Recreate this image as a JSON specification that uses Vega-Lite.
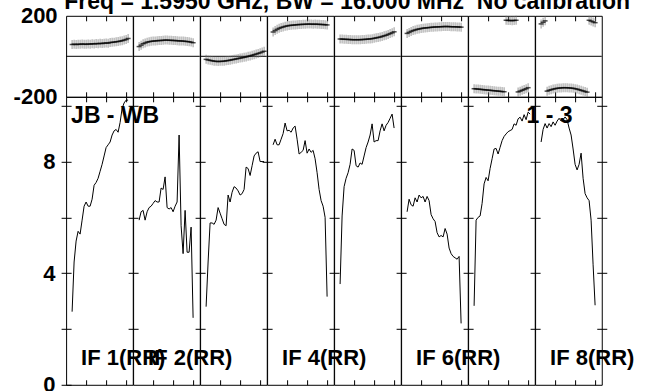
{
"$schema":"https://vega.github.io/schema/vega-lite/v6.json",
"autosize":{"type":"pad"},
"padding":{"left":12.1,"top":-10.2,"right":0,"bottom":0},
"background":"white",
"config":{"view":{"stroke":"black","strokeWidth":1},"axis":{"domain":false,"grid":false,"tickColor":"black","labelFont":"Liberation Sans","labelFontSize":22,"labelFontWeight":"bold","labelColor":"black"}},
"datasets":{
"amp":[
{"i":1,"c":3,"a":2.62},{"i":1,"c":4,"a":4.4},{"i":1,"c":5,"a":5.15},{"i":1,"c":6,"a":5.5},{"i":1,"c":7,"a":5.4},{"i":1,"c":8,"a":5.9},{"i":1,"c":9,"a":6.4},{"i":1,"c":10,"a":6.55},{"i":1,"c":11,"a":6.4},{"i":1,"c":12,"a":6.4},{"i":1,"c":13,"a":6.65},{"i":1,"c":14,"a":7.15},{"i":1,"c":15,"a":7.25},{"i":1,"c":16,"a":7.4},{"i":1,"c":17,"a":7.65},{"i":1,"c":18,"a":7.9},{"i":1,"c":19,"a":8.2},{"i":1,"c":20,"a":8.5},{"i":1,"c":21,"a":8.6},{"i":1,"c":22,"a":8.7},{"i":1,"c":23,"a":8.95},{"i":1,"c":24,"a":9.1},{"i":1,"c":25,"a":9.15},{"i":1,"c":26,"a":9.05},{"i":1,"c":27,"a":9.4},{"i":1,"c":28,"a":9.9},{"i":1,"c":29,"a":10.1},{"i":1,"c":30,"a":10.2},{"i":1,"c":31,"a":10.2},
{"i":2,"c":3,"a":5.9},{"i":2,"c":4,"a":6.2},{"i":2,"c":5,"a":6.25},{"i":2,"c":6,"a":5.9},{"i":2,"c":7,"a":6.2},{"i":2,"c":8,"a":6.35},{"i":2,"c":9,"a":6.4},{"i":2,"c":10,"a":6.5},{"i":2,"c":11,"a":6.6},{"i":2,"c":12,"a":6.55},{"i":2,"c":13,"a":6.55},{"i":2,"c":14,"a":7.05},{"i":2,"c":15,"a":7.0},{"i":2,"c":16,"a":7.45},{"i":2,"c":17,"a":6.35},{"i":2,"c":18,"a":6.3},{"i":2,"c":19,"a":6.35},{"i":2,"c":20,"a":6.2},{"i":2,"c":21,"a":6.4},{"i":2,"c":22,"a":6.55},{"i":2,"c":23,"a":8.95},{"i":2,"c":24,"a":5.7},{"i":2,"c":25,"a":4.7},{"i":2,"c":26,"a":6.25},{"i":2,"c":27,"a":4.75},{"i":2,"c":28,"a":4.75},{"i":2,"c":29,"a":5.65},{"i":2,"c":30,"a":2.4},
{"i":3,"c":3,"a":2.8},{"i":3,"c":4,"a":4.4},{"i":3,"c":5,"a":5.8},{"i":3,"c":6,"a":5.8},{"i":3,"c":7,"a":5.75},{"i":3,"c":8,"a":5.9},{"i":3,"c":9,"a":6.35},{"i":3,"c":10,"a":6.15},{"i":3,"c":11,"a":5.95},{"i":3,"c":12,"a":5.75},{"i":3,"c":13,"a":5.7},{"i":3,"c":14,"a":6.8},{"i":3,"c":15,"a":6.55},{"i":3,"c":16,"a":6.9},{"i":3,"c":17,"a":7.1},{"i":3,"c":18,"a":7.05},{"i":3,"c":19,"a":6.95},{"i":3,"c":20,"a":6.8},{"i":3,"c":21,"a":6.85},{"i":3,"c":22,"a":7.0},{"i":3,"c":23,"a":7.8},{"i":3,"c":24,"a":7.75},{"i":3,"c":25,"a":7.5},{"i":3,"c":26,"a":7.85},{"i":3,"c":27,"a":8.2},{"i":3,"c":28,"a":8.3},{"i":3,"c":29,"a":8.35},{"i":3,"c":30,"a":8.0},{"i":3,"c":31,"a":8.0},{"i":3,"c":32,"a":8.0},
{"i":4,"c":3,"a":8.6},{"i":4,"c":4,"a":8.8},{"i":4,"c":5,"a":8.6},{"i":4,"c":6,"a":8.6},{"i":4,"c":7,"a":8.8},{"i":4,"c":8,"a":9.0},{"i":4,"c":9,"a":9.38},{"i":4,"c":10,"a":9.1},{"i":4,"c":11,"a":9.12},{"i":4,"c":12,"a":9.05},{"i":4,"c":13,"a":9.2},{"i":4,"c":14,"a":9.27},{"i":4,"c":15,"a":8.8},{"i":4,"c":16,"a":8.27},{"i":4,"c":17,"a":8.33},{"i":4,"c":18,"a":8.4},{"i":4,"c":19,"a":8.75},{"i":4,"c":20,"a":8.3},{"i":4,"c":21,"a":8.45},{"i":4,"c":22,"a":8.33},{"i":4,"c":23,"a":8.4},{"i":4,"c":24,"a":8.1},{"i":4,"c":25,"a":7.6},{"i":4,"c":26,"a":7.0},{"i":4,"c":27,"a":6.6},{"i":4,"c":28,"a":6.4},{"i":4,"c":29,"a":6.0},{"i":4,"c":30,"a":3.16},
{"i":5,"c":3,"a":3.61},{"i":5,"c":4,"a":6.05},{"i":5,"c":5,"a":7.1},{"i":5,"c":6,"a":7.4},{"i":5,"c":7,"a":7.6},{"i":5,"c":8,"a":7.9},{"i":5,"c":9,"a":8.45},{"i":5,"c":10,"a":8.4},{"i":5,"c":11,"a":7.85},{"i":5,"c":12,"a":7.8},{"i":5,"c":13,"a":7.95},{"i":5,"c":14,"a":7.9},{"i":5,"c":15,"a":8.2},{"i":5,"c":16,"a":8.5},{"i":5,"c":17,"a":8.7},{"i":5,"c":18,"a":8.95},{"i":5,"c":19,"a":9.35},{"i":5,"c":20,"a":8.7},{"i":5,"c":21,"a":8.75},{"i":5,"c":22,"a":8.75},{"i":5,"c":23,"a":9.1},{"i":5,"c":24,"a":9.35},{"i":5,"c":25,"a":9.1},{"i":5,"c":26,"a":9.3},{"i":5,"c":27,"a":9.4},{"i":5,"c":28,"a":9.55},{"i":5,"c":29,"a":9.7},{"i":5,"c":30,"a":9.2},
{"i":6,"c":3,"a":6.2},{"i":6,"c":4,"a":6.65},{"i":6,"c":5,"a":6.45},{"i":6,"c":6,"a":6.4},{"i":6,"c":7,"a":6.7},{"i":6,"c":8,"a":6.55},{"i":6,"c":9,"a":6.8},{"i":6,"c":10,"a":6.7},{"i":6,"c":11,"a":6.75},{"i":6,"c":12,"a":6.55},{"i":6,"c":13,"a":6.75},{"i":6,"c":14,"a":6.6},{"i":6,"c":15,"a":6.1},{"i":6,"c":16,"a":5.95},{"i":6,"c":17,"a":5.85},{"i":6,"c":18,"a":5.45},{"i":6,"c":19,"a":5.3},{"i":6,"c":20,"a":5.35},{"i":6,"c":21,"a":5.3},{"i":6,"c":22,"a":5.6},{"i":6,"c":23,"a":5.4},{"i":6,"c":24,"a":4.9},{"i":6,"c":25,"a":4.7},{"i":6,"c":26,"a":4.6},{"i":6,"c":27,"a":4.55},{"i":6,"c":28,"a":4.5},{"i":6,"c":29,"a":4.6},{"i":6,"c":30,"a":2.2},
{"i":7,"c":3,"a":2.83},{"i":7,"c":4,"a":5.9},{"i":7,"c":5,"a":6.0},{"i":7,"c":6,"a":6.05},{"i":7,"c":7,"a":6.5},{"i":7,"c":8,"a":7.2},{"i":7,"c":9,"a":7.43},{"i":7,"c":10,"a":7.31},{"i":7,"c":11,"a":7.75},{"i":7,"c":12,"a":8.1},{"i":7,"c":13,"a":8.45},{"i":7,"c":14,"a":8.47},{"i":7,"c":15,"a":8.27},{"i":7,"c":16,"a":8.51},{"i":7,"c":17,"a":8.75},{"i":7,"c":18,"a":8.9},{"i":7,"c":19,"a":8.99},{"i":7,"c":20,"a":9.07},{"i":7,"c":21,"a":9.11},{"i":7,"c":22,"a":9.15},{"i":7,"c":23,"a":9.35},{"i":7,"c":24,"a":9.3},{"i":7,"c":25,"a":9.53},{"i":7,"c":26,"a":9.59},{"i":7,"c":27,"a":9.45},{"i":7,"c":28,"a":9.68},{"i":7,"c":29,"a":9.5},{"i":7,"c":30,"a":9.77},{"i":7,"c":31,"a":9.7},
{"i":8,"c":3,"a":8.7},{"i":8,"c":4,"a":9.15},{"i":8,"c":5,"a":9.36},{"i":8,"c":6,"a":9.2},{"i":8,"c":7,"a":9.36},{"i":8,"c":8,"a":9.25},{"i":8,"c":9,"a":9.42},{"i":8,"c":10,"a":9.3},{"i":8,"c":11,"a":9.45},{"i":8,"c":12,"a":9.55},{"i":8,"c":13,"a":9.45},{"i":8,"c":14,"a":9.5},{"i":8,"c":15,"a":9.6},{"i":8,"c":16,"a":9.5},{"i":8,"c":17,"a":9.2},{"i":8,"c":18,"a":8.95},{"i":8,"c":19,"a":8.45},{"i":8,"c":20,"a":7.9},{"i":8,"c":21,"a":7.7},{"i":8,"c":22,"a":7.9},{"i":8,"c":23,"a":8.3},{"i":8,"c":24,"a":7.4},{"i":8,"c":25,"a":6.85},{"i":8,"c":26,"a":6.7},{"i":8,"c":27,"a":6.6},{"i":8,"c":28,"a":5.9},{"i":8,"c":29,"a":4.3},{"i":8,"c":30,"a":2.85}
],
"ph":[
{"i":1,"c":3,"p":58},{"i":1,"c":4,"p":60},{"i":1,"c":5,"p":58},{"i":1,"c":6,"p":60},{"i":1,"c":7,"p":59},{"i":1,"c":8,"p":61},{"i":1,"c":9,"p":60},{"i":1,"c":10,"p":59},{"i":1,"c":11,"p":61},{"i":1,"c":12,"p":60},{"i":1,"c":13,"p":62},{"i":1,"c":14,"p":61},{"i":1,"c":15,"p":63},{"i":1,"c":16,"p":62},{"i":1,"c":17,"p":64},{"i":1,"c":18,"p":63},{"i":1,"c":19,"p":65},{"i":1,"c":20,"p":66},{"i":1,"c":21,"p":65},{"i":1,"c":22,"p":68},{"i":1,"c":23,"p":69},{"i":1,"c":24,"p":70},{"i":1,"c":25,"p":72},{"i":1,"c":26,"p":73},{"i":1,"c":27,"p":75},{"i":1,"c":28,"p":77},{"i":1,"c":29,"p":80},{"i":1,"c":30,"p":83},{"i":1,"c":31,"p":88},
{"i":2,"c":3,"p":48},{"i":2,"c":4,"p":55},{"i":2,"c":5,"p":62},{"i":2,"c":6,"p":66},{"i":2,"c":7,"p":70},{"i":2,"c":8,"p":72},{"i":2,"c":9,"p":74},{"i":2,"c":10,"p":75},{"i":2,"c":11,"p":76},{"i":2,"c":12,"p":77},{"i":2,"c":13,"p":78},{"i":2,"c":14,"p":78},{"i":2,"c":15,"p":79},{"i":2,"c":16,"p":80},{"i":2,"c":17,"p":80},{"i":2,"c":18,"p":79},{"i":2,"c":19,"p":79},{"i":2,"c":20,"p":78},{"i":2,"c":21,"p":78},{"i":2,"c":22,"p":77},{"i":2,"c":23,"p":76},{"i":2,"c":24,"p":76},{"i":2,"c":25,"p":75},{"i":2,"c":26,"p":74},{"i":2,"c":27,"p":73},{"i":2,"c":28,"p":72},{"i":2,"c":29,"p":70},{"i":2,"c":30,"p":67},
{"i":3,"c":3,"p":-15},{"i":3,"c":4,"p":-18},{"i":3,"c":5,"p":-20},{"i":3,"c":6,"p":-22},{"i":3,"c":7,"p":-24},{"i":3,"c":8,"p":-25},{"i":3,"c":9,"p":-26},{"i":3,"c":10,"p":-25},{"i":3,"c":11,"p":-25},{"i":3,"c":12,"p":-24},{"i":3,"c":13,"p":-22},{"i":3,"c":14,"p":-21},{"i":3,"c":15,"p":-19},{"i":3,"c":16,"p":-17},{"i":3,"c":17,"p":-15},{"i":3,"c":18,"p":-13},{"i":3,"c":19,"p":-11},{"i":3,"c":20,"p":-9},{"i":3,"c":21,"p":-7},{"i":3,"c":22,"p":-5},{"i":3,"c":23,"p":-3},{"i":3,"c":24,"p":0},{"i":3,"c":25,"p":2},{"i":3,"c":26,"p":5},{"i":3,"c":27,"p":8},{"i":3,"c":28,"p":11},{"i":3,"c":29,"p":14},{"i":3,"c":30,"p":17},{"i":3,"c":31,"p":21},{"i":3,"c":32,"p":25},
{"i":4,"c":3,"p":120},{"i":4,"c":4,"p":127},{"i":4,"c":5,"p":133},{"i":4,"c":6,"p":138},{"i":4,"c":7,"p":142},{"i":4,"c":8,"p":145},{"i":4,"c":9,"p":148},{"i":4,"c":10,"p":150},{"i":4,"c":11,"p":152},{"i":4,"c":12,"p":153},{"i":4,"c":13,"p":154},{"i":4,"c":14,"p":155},{"i":4,"c":15,"p":156},{"i":4,"c":16,"p":157},{"i":4,"c":17,"p":157},{"i":4,"c":18,"p":158},{"i":4,"c":19,"p":158},{"i":4,"c":20,"p":159},{"i":4,"c":21,"p":159},{"i":4,"c":22,"p":159},{"i":4,"c":23,"p":158},{"i":4,"c":24,"p":159},{"i":4,"c":25,"p":158},{"i":4,"c":26,"p":158},{"i":4,"c":27,"p":157},{"i":4,"c":28,"p":157},{"i":4,"c":29,"p":156},{"i":4,"c":30,"p":155},
{"i":5,"c":3,"p":86},{"i":5,"c":4,"p":85},{"i":5,"c":5,"p":84},{"i":5,"c":6,"p":84},{"i":5,"c":7,"p":83},{"i":5,"c":8,"p":83},{"i":5,"c":9,"p":82},{"i":5,"c":10,"p":82},{"i":5,"c":11,"p":82},{"i":5,"c":12,"p":82},{"i":5,"c":13,"p":82},{"i":5,"c":14,"p":83},{"i":5,"c":15,"p":83},{"i":5,"c":16,"p":84},{"i":5,"c":17,"p":85},{"i":5,"c":18,"p":86},{"i":5,"c":19,"p":87},{"i":5,"c":20,"p":89},{"i":5,"c":21,"p":91},{"i":5,"c":22,"p":93},{"i":5,"c":23,"p":95},{"i":5,"c":24,"p":98},{"i":5,"c":25,"p":101},{"i":5,"c":26,"p":104},{"i":5,"c":27,"p":108},{"i":5,"c":28,"p":112},{"i":5,"c":29,"p":116},{"i":5,"c":30,"p":121},
{"i":6,"c":3,"p":113},{"i":6,"c":4,"p":118},{"i":6,"c":5,"p":123},{"i":6,"c":6,"p":127},{"i":6,"c":7,"p":130},{"i":6,"c":8,"p":133},{"i":6,"c":9,"p":135},{"i":6,"c":10,"p":137},{"i":6,"c":11,"p":139},{"i":6,"c":12,"p":140},{"i":6,"c":13,"p":141},{"i":6,"c":14,"p":142},{"i":6,"c":15,"p":143},{"i":6,"c":16,"p":144},{"i":6,"c":17,"p":145},{"i":6,"c":18,"p":145},{"i":6,"c":19,"p":146},{"i":6,"c":20,"p":146},{"i":6,"c":21,"p":147},{"i":6,"c":22,"p":147},{"i":6,"c":23,"p":147},{"i":6,"c":24,"p":147},{"i":6,"c":25,"p":146},{"i":6,"c":26,"p":146},{"i":6,"c":27,"p":146},{"i":6,"c":28,"p":145},{"i":6,"c":29,"p":145},{"i":6,"c":30,"p":144},
{"i":7,"c":3,"p":-160},{"i":7,"c":4,"p":-161},{"i":7,"c":5,"p":-162},{"i":7,"c":6,"p":-163},{"i":7,"c":7,"p":-164},{"i":7,"c":8,"p":-165},{"i":7,"c":9,"p":-166},{"i":7,"c":10,"p":-167},{"i":7,"c":11,"p":-168},{"i":7,"c":12,"p":-169},{"i":7,"c":13,"p":-170},{"i":7,"c":14,"p":-171},{"i":7,"c":15,"p":-172},{"i":7,"c":16,"p":-173},{"i":7,"c":17,"p":-174},{"i":7,"c":18,"p":-175},{"i":7,"c":19,"p":178},{"i":7,"c":20,"p":177},{"i":7,"c":21,"p":177},{"i":7,"c":22,"p":176},{"i":7,"c":23,"p":177},{"i":7,"c":24,"p":178},{"i":7,"c":25,"p":-176},{"i":7,"c":26,"p":-172},{"i":7,"c":27,"p":-168},{"i":7,"c":28,"p":-164},{"i":7,"c":29,"p":-160},{"i":7,"c":30,"p":-155},
{"i":8,"c":3,"p":160},{"i":8,"c":4,"p":168},{"i":8,"c":5,"p":175},{"i":8,"c":6,"p":-172},{"i":8,"c":7,"p":-168},{"i":8,"c":8,"p":-165},{"i":8,"c":9,"p":-162},{"i":8,"c":10,"p":-160},{"i":8,"c":11,"p":-158},{"i":8,"c":12,"p":-157},{"i":8,"c":13,"p":-156},{"i":8,"c":14,"p":-155},{"i":8,"c":15,"p":-155},{"i":8,"c":16,"p":-155},{"i":8,"c":17,"p":-156},{"i":8,"c":18,"p":-157},{"i":8,"c":19,"p":-158},{"i":8,"c":20,"p":-160},{"i":8,"c":21,"p":-162},{"i":8,"c":22,"p":-165},{"i":8,"c":23,"p":-168},{"i":8,"c":24,"p":-171},{"i":8,"c":25,"p":-174},{"i":8,"c":26,"p":-177},{"i":8,"c":27,"p":178},{"i":8,"c":28,"p":174},{"i":8,"c":29,"p":170},{"i":8,"c":30,"p":166}
]},
"columns":8,"spacing":0,"bounds":"flush","align":"each",
"concat":[
{"width":66.67,"height":81,"resolve":{"axis":{"x":"independent"}},"layer":[
{"data":{"values":[{}]},"mark":{"type":"rule","color":"black","strokeWidth":1},"encoding":{"y":{"datum":0,"type":"quantitative","scale":{"domain":[-200,200],"nice":false},"axis":{"values":[-200,200],"tickSize":0,"labelPadding":9,"labelExpr":"datum.value < 0 ? '-200' : '200'","title":null}}}},
{"data":{"name":"ph"},"transform":[{"filter":"datum.i==1"}],"mark":{"type":"tick","orient":"vertical","size":9,"thickness":1,"color":"#6e6e6e"},"encoding":{"x":{"field":"c","type":"quantitative","scale":{"domain":[0,33.33],"nice":false,"zero":false},"axis":{"orient":"top","values":[10,20,30],"offset":-5,"tickSize":5,"labels":false,"title":null}},"y":{"field":"p","type":"quantitative","axis":{"values":[-200,200],"tickSize":0,"labelPadding":9,"labelExpr":"datum.value < 0 ? '-200' : '200'","title":null}}}},
{"data":{"name":"ph"},"transform":[{"filter":"datum.i==1"}],"mark":{"type":"tick","orient":"horizontal","size":5,"thickness":1.5,"color":"black"},"encoding":{"x":{"field":"c","type":"quantitative","axis":{"orient":"bottom","values":[10,20,30],"offset":-5,"tickSize":5,"labels":false,"title":null}},"y":{"field":"p","type":"quantitative","axis":{"values":[-200,200],"tickSize":0,"labelPadding":9,"labelExpr":"datum.value < 0 ? '-200' : '200'","title":null}}}},
{"data":{"values":[{"t":"Freq = 1.5950 GHz, BW = 16.000 MHz\u00a0\u00a0No calibration"}]},"mark":{"type":"text","align":"left","baseline":"alphabetic","font":"Liberation Sans","fontSize":23,"fontWeight":"bold","color":"black"},"encoding":{"x":{"datum":-0.95,"type":"quantitative","axis":null},"y":{"datum":234.6,"type":"quantitative","axis":{"values":[-200,200],"tickSize":0,"labelPadding":9,"labelExpr":"datum.value < 0 ? '-200' : '200'","title":null}},"text":{"field":"t"}}}]},
{"width":66.67,"height":81,"resolve":{"axis":{"x":"independent"}},"layer":[
{"data":{"values":[{}]},"mark":{"type":"rule","color":"black","strokeWidth":1},"encoding":{"y":{"datum":0,"type":"quantitative","scale":{"domain":[-200,200],"nice":false},"axis":null}}},
{"data":{"name":"ph"},"transform":[{"filter":"datum.i==2"}],"mark":{"type":"tick","orient":"vertical","size":9,"thickness":1,"color":"#6e6e6e"},"encoding":{"x":{"field":"c","type":"quantitative","scale":{"domain":[0,33.33],"nice":false,"zero":false},"axis":{"orient":"top","values":[10,20,30],"offset":-5,"tickSize":5,"labels":false,"title":null}},"y":{"field":"p","type":"quantitative","axis":null}}},
{"data":{"name":"ph"},"transform":[{"filter":"datum.i==2"}],"mark":{"type":"tick","orient":"horizontal","size":5,"thickness":1.5,"color":"black"},"encoding":{"x":{"field":"c","type":"quantitative","axis":{"orient":"bottom","values":[10,20,30],"offset":-5,"tickSize":5,"labels":false,"title":null}},"y":{"field":"p","type":"quantitative","axis":null}}}]},
{"width":66.67,"height":81,"resolve":{"axis":{"x":"independent"}},"layer":[
{"data":{"values":[{}]},"mark":{"type":"rule","color":"black","strokeWidth":1},"encoding":{"y":{"datum":0,"type":"quantitative","scale":{"domain":[-200,200],"nice":false},"axis":null}}},
{"data":{"name":"ph"},"transform":[{"filter":"datum.i==3"}],"mark":{"type":"tick","orient":"vertical","size":9,"thickness":1,"color":"#6e6e6e"},"encoding":{"x":{"field":"c","type":"quantitative","scale":{"domain":[0,33.33],"nice":false,"zero":false},"axis":{"orient":"top","values":[10,20,30],"offset":-5,"tickSize":5,"labels":false,"title":null}},"y":{"field":"p","type":"quantitative","axis":null}}},
{"data":{"name":"ph"},"transform":[{"filter":"datum.i==3"}],"mark":{"type":"tick","orient":"horizontal","size":5,"thickness":1.5,"color":"black"},"encoding":{"x":{"field":"c","type":"quantitative","axis":{"orient":"bottom","values":[10,20,30],"offset":-5,"tickSize":5,"labels":false,"title":null}},"y":{"field":"p","type":"quantitative","axis":null}}}]},
{"width":66.67,"height":81,"resolve":{"axis":{"x":"independent"}},"layer":[
{"data":{"values":[{}]},"mark":{"type":"rule","color":"black","strokeWidth":1},"encoding":{"y":{"datum":0,"type":"quantitative","scale":{"domain":[-200,200],"nice":false},"axis":null}}},
{"data":{"name":"ph"},"transform":[{"filter":"datum.i==4"}],"mark":{"type":"tick","orient":"vertical","size":9,"thickness":1,"color":"#6e6e6e"},"encoding":{"x":{"field":"c","type":"quantitative","scale":{"domain":[0,33.33],"nice":false,"zero":false},"axis":{"orient":"top","values":[10,20,30],"offset":-5,"tickSize":5,"labels":false,"title":null}},"y":{"field":"p","type":"quantitative","axis":null}}},
{"data":{"name":"ph"},"transform":[{"filter":"datum.i==4"}],"mark":{"type":"tick","orient":"horizontal","size":5,"thickness":1.5,"color":"black"},"encoding":{"x":{"field":"c","type":"quantitative","axis":{"orient":"bottom","values":[10,20,30],"offset":-5,"tickSize":5,"labels":false,"title":null}},"y":{"field":"p","type":"quantitative","axis":null}}}]},
{"width":66.67,"height":81,"resolve":{"axis":{"x":"independent"}},"layer":[
{"data":{"values":[{}]},"mark":{"type":"rule","color":"black","strokeWidth":1},"encoding":{"y":{"datum":0,"type":"quantitative","scale":{"domain":[-200,200],"nice":false},"axis":null}}},
{"data":{"name":"ph"},"transform":[{"filter":"datum.i==5"}],"mark":{"type":"tick","orient":"vertical","size":9,"thickness":1,"color":"#6e6e6e"},"encoding":{"x":{"field":"c","type":"quantitative","scale":{"domain":[0,33.33],"nice":false,"zero":false},"axis":{"orient":"top","values":[10,20,30],"offset":-5,"tickSize":5,"labels":false,"title":null}},"y":{"field":"p","type":"quantitative","axis":null}}},
{"data":{"name":"ph"},"transform":[{"filter":"datum.i==5"}],"mark":{"type":"tick","orient":"horizontal","size":5,"thickness":1.5,"color":"black"},"encoding":{"x":{"field":"c","type":"quantitative","axis":{"orient":"bottom","values":[10,20,30],"offset":-5,"tickSize":5,"labels":false,"title":null}},"y":{"field":"p","type":"quantitative","axis":null}}}]},
{"width":66.67,"height":81,"resolve":{"axis":{"x":"independent"}},"layer":[
{"data":{"values":[{}]},"mark":{"type":"rule","color":"black","strokeWidth":1},"encoding":{"y":{"datum":0,"type":"quantitative","scale":{"domain":[-200,200],"nice":false},"axis":null}}},
{"data":{"name":"ph"},"transform":[{"filter":"datum.i==6"}],"mark":{"type":"tick","orient":"vertical","size":9,"thickness":1,"color":"#6e6e6e"},"encoding":{"x":{"field":"c","type":"quantitative","scale":{"domain":[0,33.33],"nice":false,"zero":false},"axis":{"orient":"top","values":[10,20,30],"offset":-5,"tickSize":5,"labels":false,"title":null}},"y":{"field":"p","type":"quantitative","axis":null}}},
{"data":{"name":"ph"},"transform":[{"filter":"datum.i==6"}],"mark":{"type":"tick","orient":"horizontal","size":5,"thickness":1.5,"color":"black"},"encoding":{"x":{"field":"c","type":"quantitative","axis":{"orient":"bottom","values":[10,20,30],"offset":-5,"tickSize":5,"labels":false,"title":null}},"y":{"field":"p","type":"quantitative","axis":null}}}]},
{"width":66.67,"height":81,"resolve":{"axis":{"x":"independent"}},"layer":[
{"data":{"values":[{}]},"mark":{"type":"rule","color":"black","strokeWidth":1},"encoding":{"y":{"datum":0,"type":"quantitative","scale":{"domain":[-200,200],"nice":false},"axis":null}}},
{"data":{"name":"ph"},"transform":[{"filter":"datum.i==7"}],"mark":{"type":"tick","orient":"vertical","size":9,"thickness":1,"color":"#6e6e6e"},"encoding":{"x":{"field":"c","type":"quantitative","scale":{"domain":[0,33.33],"nice":false,"zero":false},"axis":{"orient":"top","values":[10,20,30],"offset":-5,"tickSize":5,"labels":false,"title":null}},"y":{"field":"p","type":"quantitative","axis":null}}},
{"data":{"name":"ph"},"transform":[{"filter":"datum.i==7"}],"mark":{"type":"tick","orient":"horizontal","size":5,"thickness":1.5,"color":"black"},"encoding":{"x":{"field":"c","type":"quantitative","axis":{"orient":"bottom","values":[10,20,30],"offset":-5,"tickSize":5,"labels":false,"title":null}},"y":{"field":"p","type":"quantitative","axis":null}}}]},
{"width":66.67,"height":81,"resolve":{"axis":{"x":"independent"}},"layer":[
{"data":{"values":[{}]},"mark":{"type":"rule","color":"black","strokeWidth":1},"encoding":{"y":{"datum":0,"type":"quantitative","scale":{"domain":[-200,200],"nice":false},"axis":null}}},
{"data":{"name":"ph"},"transform":[{"filter":"datum.i==8"}],"mark":{"type":"tick","orient":"vertical","size":9,"thickness":1,"color":"#6e6e6e"},"encoding":{"x":{"field":"c","type":"quantitative","scale":{"domain":[0,33.33],"nice":false,"zero":false},"axis":{"orient":"top","values":[10,20,30],"offset":-5,"tickSize":5,"labels":false,"title":null}},"y":{"field":"p","type":"quantitative","axis":null}}},
{"data":{"name":"ph"},"transform":[{"filter":"datum.i==8"}],"mark":{"type":"tick","orient":"horizontal","size":5,"thickness":1.5,"color":"black"},"encoding":{"x":{"field":"c","type":"quantitative","axis":{"orient":"bottom","values":[10,20,30],"offset":-5,"tickSize":5,"labels":false,"title":null}},"y":{"field":"p","type":"quantitative","axis":null}}}]},
{"width":66.67,"height":288,"resolve":{"axis":{"x":"independent"}},"layer":[
{"data":{"name":"amp"},"transform":[{"filter":"datum.i==1"}],"mark":{"type":"line","color":"black","strokeWidth":1},"encoding":{"x":{"field":"c","type":"quantitative","scale":{"domain":[0,33.33],"nice":false,"zero":false},"axis":{"orient":"top","values":[10,20,30],"offset":-5,"tickSize":5,"labels":false,"title":null}},"y":{"field":"a","type":"quantitative","scale":{"domain":[0,10.32],"nice":false},"axis":{"values":[0,2,4,6,8,10],"offset":-5,"tickSize":10,"labelPadding":6,"labelExpr":"datum.value % 4 == 0 ? datum.label : ''","title":null}}}},
{"data":{"name":"amp"},"transform":[{"filter":"datum.i==1"}],"mark":{"type":"point","opacity":0},"encoding":{"x":{"field":"c","type":"quantitative","axis":{"orient":"bottom","values":[10,20,30],"offset":-5,"tickSize":5,"labels":false,"title":null}},"y":{"field":"a","type":"quantitative","axis":{"values":[0,2,4,6,8,10],"offset":-5,"tickSize":10,"labelPadding":6,"labelExpr":"datum.value % 4 == 0 ? datum.label : ''","title":null}}}},
{"data":{"values":[{"t":"JB - WB"}]},"mark":{"type":"text","align":"left","baseline":"alphabetic","font":"Liberation Sans","fontSize":23,"fontWeight":"bold","color":"black"},"encoding":{"x":{"datum":2.5,"type":"quantitative","axis":null},"y":{"datum":9.38,"type":"quantitative","axis":{"values":[0,2,4,6,8,10],"offset":-5,"tickSize":10,"labelPadding":6,"labelExpr":"datum.value % 4 == 0 ? datum.label : ''","title":null}},"text":{"field":"t"}}},
{"data":{"values":[{"t":"IF 1(RR)"}]},"mark":{"type":"text","align":"left","baseline":"alphabetic","font":"Liberation Sans","fontSize":22,"fontWeight":"bold","color":"black"},"encoding":{"x":{"datum":7.5,"type":"quantitative","axis":null},"y":{"datum":0.72,"type":"quantitative","axis":{"values":[0,2,4,6,8,10],"offset":-5,"tickSize":10,"labelPadding":6,"labelExpr":"datum.value % 4 == 0 ? datum.label : ''","title":null}},"text":{"field":"t"}}}]},
{"width":66.67,"height":288,"resolve":{"axis":{"x":"independent"}},"layer":[
{"data":{"name":"amp"},"transform":[{"filter":"datum.i==2"}],"mark":{"type":"line","color":"black","strokeWidth":1},"encoding":{"x":{"field":"c","type":"quantitative","scale":{"domain":[0,33.33],"nice":false,"zero":false},"axis":{"orient":"top","values":[10,20,30],"offset":-5,"tickSize":5,"labels":false,"title":null}},"y":{"field":"a","type":"quantitative","scale":{"domain":[0,10.32],"nice":false},"axis":{"values":[2,4,6,8,10],"offset":-5,"tickSize":10,"labels":false,"title":null}}}},
{"data":{"name":"amp"},"transform":[{"filter":"datum.i==2"}],"mark":{"type":"point","opacity":0},"encoding":{"x":{"field":"c","type":"quantitative","axis":{"orient":"bottom","values":[10,20,30],"offset":-5,"tickSize":5,"labels":false,"title":null}},"y":{"field":"a","type":"quantitative","axis":{"values":[2,4,6,8,10],"offset":-5,"tickSize":10,"labels":false,"title":null}}}},
{"data":{"values":[{"t":"IF 2(RR)"}]},"mark":{"type":"text","align":"left","baseline":"alphabetic","font":"Liberation Sans","fontSize":22,"fontWeight":"bold","color":"black"},"encoding":{"x":{"datum":7.5,"type":"quantitative","axis":null},"y":{"datum":0.72,"type":"quantitative","axis":{"values":[2,4,6,8,10],"offset":-5,"tickSize":10,"labels":false,"title":null}},"text":{"field":"t"}}}]},
{"width":66.67,"height":288,"resolve":{"axis":{"x":"independent"}},"layer":[
{"data":{"name":"amp"},"transform":[{"filter":"datum.i==3"}],"mark":{"type":"line","color":"black","strokeWidth":1},"encoding":{"x":{"field":"c","type":"quantitative","scale":{"domain":[0,33.33],"nice":false,"zero":false},"axis":{"orient":"top","values":[10,20,30],"offset":-5,"tickSize":5,"labels":false,"title":null}},"y":{"field":"a","type":"quantitative","scale":{"domain":[0,10.32],"nice":false},"axis":{"values":[2,4,6,8,10],"offset":-5,"tickSize":10,"labels":false,"title":null}}}},
{"data":{"name":"amp"},"transform":[{"filter":"datum.i==3"}],"mark":{"type":"point","opacity":0},"encoding":{"x":{"field":"c","type":"quantitative","axis":{"orient":"bottom","values":[10,20,30],"offset":-5,"tickSize":5,"labels":false,"title":null}},"y":{"field":"a","type":"quantitative","axis":{"values":[2,4,6,8,10],"offset":-5,"tickSize":10,"labels":false,"title":null}}}}]},
{"width":66.67,"height":288,"resolve":{"axis":{"x":"independent"}},"layer":[
{"data":{"name":"amp"},"transform":[{"filter":"datum.i==4"}],"mark":{"type":"line","color":"black","strokeWidth":1},"encoding":{"x":{"field":"c","type":"quantitative","scale":{"domain":[0,33.33],"nice":false,"zero":false},"axis":{"orient":"top","values":[10,20,30],"offset":-5,"tickSize":5,"labels":false,"title":null}},"y":{"field":"a","type":"quantitative","scale":{"domain":[0,10.32],"nice":false},"axis":{"values":[2,4,6,8,10],"offset":-5,"tickSize":10,"labels":false,"title":null}}}},
{"data":{"name":"amp"},"transform":[{"filter":"datum.i==4"}],"mark":{"type":"point","opacity":0},"encoding":{"x":{"field":"c","type":"quantitative","axis":{"orient":"bottom","values":[10,20,30],"offset":-5,"tickSize":5,"labels":false,"title":null}},"y":{"field":"a","type":"quantitative","axis":{"values":[2,4,6,8,10],"offset":-5,"tickSize":10,"labels":false,"title":null}}}},
{"data":{"values":[{"t":"IF 4(RR)"}]},"mark":{"type":"text","align":"left","baseline":"alphabetic","font":"Liberation Sans","fontSize":22,"fontWeight":"bold","color":"black"},"encoding":{"x":{"datum":7.5,"type":"quantitative","axis":null},"y":{"datum":0.72,"type":"quantitative","axis":{"values":[2,4,6,8,10],"offset":-5,"tickSize":10,"labels":false,"title":null}},"text":{"field":"t"}}}]},
{"width":66.67,"height":288,"resolve":{"axis":{"x":"independent"}},"layer":[
{"data":{"name":"amp"},"transform":[{"filter":"datum.i==5"}],"mark":{"type":"line","color":"black","strokeWidth":1},"encoding":{"x":{"field":"c","type":"quantitative","scale":{"domain":[0,33.33],"nice":false,"zero":false},"axis":{"orient":"top","values":[10,20,30],"offset":-5,"tickSize":5,"labels":false,"title":null}},"y":{"field":"a","type":"quantitative","scale":{"domain":[0,10.32],"nice":false},"axis":{"values":[2,4,6,8,10],"offset":-5,"tickSize":10,"labels":false,"title":null}}}},
{"data":{"name":"amp"},"transform":[{"filter":"datum.i==5"}],"mark":{"type":"point","opacity":0},"encoding":{"x":{"field":"c","type":"quantitative","axis":{"orient":"bottom","values":[10,20,30],"offset":-5,"tickSize":5,"labels":false,"title":null}},"y":{"field":"a","type":"quantitative","axis":{"values":[2,4,6,8,10],"offset":-5,"tickSize":10,"labels":false,"title":null}}}}]},
{"width":66.67,"height":288,"resolve":{"axis":{"x":"independent"}},"layer":[
{"data":{"name":"amp"},"transform":[{"filter":"datum.i==6"}],"mark":{"type":"line","color":"black","strokeWidth":1},"encoding":{"x":{"field":"c","type":"quantitative","scale":{"domain":[0,33.33],"nice":false,"zero":false},"axis":{"orient":"top","values":[10,20,30],"offset":-5,"tickSize":5,"labels":false,"title":null}},"y":{"field":"a","type":"quantitative","scale":{"domain":[0,10.32],"nice":false},"axis":{"values":[2,4,6,8,10],"offset":-5,"tickSize":10,"labels":false,"title":null}}}},
{"data":{"name":"amp"},"transform":[{"filter":"datum.i==6"}],"mark":{"type":"point","opacity":0},"encoding":{"x":{"field":"c","type":"quantitative","axis":{"orient":"bottom","values":[10,20,30],"offset":-5,"tickSize":5,"labels":false,"title":null}},"y":{"field":"a","type":"quantitative","axis":{"values":[2,4,6,8,10],"offset":-5,"tickSize":10,"labels":false,"title":null}}}},
{"data":{"values":[{"t":"IF 6(RR)"}]},"mark":{"type":"text","align":"left","baseline":"alphabetic","font":"Liberation Sans","fontSize":22,"fontWeight":"bold","color":"black"},"encoding":{"x":{"datum":7.5,"type":"quantitative","axis":null},"y":{"datum":0.72,"type":"quantitative","axis":{"values":[2,4,6,8,10],"offset":-5,"tickSize":10,"labels":false,"title":null}},"text":{"field":"t"}}}]},
{"width":66.67,"height":288,"resolve":{"axis":{"x":"independent"}},"layer":[
{"data":{"name":"amp"},"transform":[{"filter":"datum.i==7"}],"mark":{"type":"line","color":"black","strokeWidth":1},"encoding":{"x":{"field":"c","type":"quantitative","scale":{"domain":[0,33.33],"nice":false,"zero":false},"axis":{"orient":"top","values":[10,20,30],"offset":-5,"tickSize":5,"labels":false,"title":null}},"y":{"field":"a","type":"quantitative","scale":{"domain":[0,10.32],"nice":false},"axis":{"values":[2,4,6,8,10],"offset":-5,"tickSize":10,"labels":false,"title":null}}}},
{"data":{"name":"amp"},"transform":[{"filter":"datum.i==7"}],"mark":{"type":"point","opacity":0},"encoding":{"x":{"field":"c","type":"quantitative","axis":{"orient":"bottom","values":[10,20,30],"offset":-5,"tickSize":5,"labels":false,"title":null}},"y":{"field":"a","type":"quantitative","axis":{"values":[2,4,6,8,10],"offset":-5,"tickSize":10,"labels":false,"title":null}}}},
{"data":{"values":[{"t":"1 - 3"}]},"mark":{"type":"text","align":"left","baseline":"alphabetic","font":"Liberation Sans","fontSize":23,"fontWeight":"bold","color":"black"},"encoding":{"x":{"datum":29.2,"type":"quantitative","axis":null},"y":{"datum":9.38,"type":"quantitative","axis":{"values":[2,4,6,8,10],"offset":-5,"tickSize":10,"labels":false,"title":null}},"text":{"field":"t"}}}]},
{"width":66.67,"height":288,"resolve":{"axis":{"x":"independent","y":"independent"}},"layer":[
{"data":{"name":"amp"},"transform":[{"filter":"datum.i==8"}],"mark":{"type":"line","color":"black","strokeWidth":1},"encoding":{"x":{"field":"c","type":"quantitative","scale":{"domain":[0,33.33],"nice":false,"zero":false},"axis":{"orient":"top","values":[10,20,30],"offset":-5,"tickSize":5,"labels":false,"title":null}},"y":{"field":"a","type":"quantitative","scale":{"domain":[0,10.32],"nice":false},"axis":{"values":[2,4,6,8,10],"offset":-5,"tickSize":10,"labels":false,"title":null}}}},
{"data":{"name":"amp"},"transform":[{"filter":"datum.i==8"}],"mark":{"type":"point","opacity":0},"encoding":{"x":{"field":"c","type":"quantitative","axis":{"orient":"bottom","values":[10,20,30],"offset":-5,"tickSize":5,"labels":false,"title":null}},"y":{"field":"a","type":"quantitative","axis":{"orient":"right","values":[2,4,6,8,10],"offset":-5,"tickSize":10,"labels":false,"title":null}}}},
{"data":{"values":[{"t":"IF 8(RR)"}]},"mark":{"type":"text","align":"left","baseline":"alphabetic","font":"Liberation Sans","fontSize":22,"fontWeight":"bold","color":"black"},"encoding":{"x":{"datum":7.5,"type":"quantitative","axis":null},"y":{"datum":0.72,"type":"quantitative","axis":null},"text":{"field":"t"}}}]}
]
}
